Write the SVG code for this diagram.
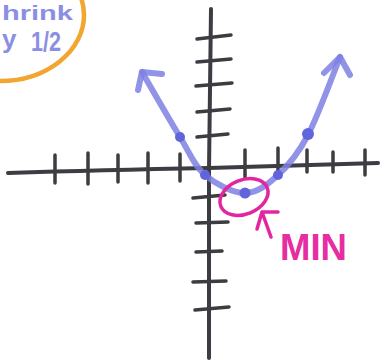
<svg xmlns="http://www.w3.org/2000/svg" width="391" height="360" viewBox="0 0 391 360">
<defs>
<style>
.ax{fill:none;stroke:#3c3c42;stroke-width:4;stroke-linecap:round}
.tk{fill:none;stroke:#3c3c42;stroke-width:3.5;stroke-linecap:round}
.cv{fill:none;stroke:#7d80e2;stroke-width:6;stroke-linecap:round;stroke-linejoin:round;opacity:0.85}
.pt{fill:#6165dc}
.mg{fill:none;stroke:#e3259f;stroke-width:3.5;stroke-linecap:round;stroke-linejoin:round}
.note{font-family:"Liberation Sans",Arial,sans-serif;font-weight:bold;fill:#8b8fe2}
</style>
</defs>
<rect width="391" height="360" fill="#ffffff"/>
<g id="label-shrink">
<ellipse cx="0" cy="15" rx="84" ry="66" fill="none" stroke="#f2a630" stroke-width="4.5"/>
<text class="note" x="2" y="20" font-size="21" textLength="71" lengthAdjust="spacingAndGlyphs">hrink</text>
<text class="note" x="2" y="48" font-size="26">y</text>
<text class="note" x="31" y="51" font-size="28" textLength="30" lengthAdjust="spacingAndGlyphs">1/2</text>
</g>
<g id="axes">
<path class="ax" d="M211,9 L209,170 L209,358"/>
<path class="ax" d="M8,173 Q100,170 209,168 L378,163"/>
</g>
<g id="ticks">
<path class="tk" d="M55,155 L55,183 M88,153 L88,184 M118,155 L118,182 M148,153 L148,183 M180,154 L180,181"/>
<path class="tk" d="M245,150 L245,177 M278,148 L278,177 M307,150 L307,172 M333,152 L333,172 M365,150 L365,175"/>
<path class="tk" d="M197,39 L231,35 M197,62 L231,59 M196,86 L232,83 M197,112 L230,109 M197,137 L228,134"/>
<path class="tk" d="M193,198 L225,195 M196,223 L228,222 M196,252 L222,251 M193,282 L226,281 M195,310 L229,307"/>
</g>
<g id="parabola">
<path class="cv" d="M142,72 C148.3,82.8 169.5,119.8 180,137 C190.5,154.2 194.2,165.7 205,175 C215.8,184.3 232.8,193 245,193 C257.2,193 267.5,184.7 278,175 C288.5,165.3 297.7,154.7 308,135 C318.3,115.3 334.7,70 340,57"/>
<path class="cv" d="M138,90 L142,72 L162,74"/>
<path class="cv" d="M324,73 L340,57 L350,75"/>
<circle class="pt" cx="180" cy="137" r="5"/>
<circle class="pt" cx="205" cy="175" r="5"/>
<circle class="pt" cx="245" cy="193" r="5.5"/>
<circle class="pt" cx="278" cy="175" r="5"/>
<circle class="pt" cx="308" cy="134" r="6"/>
</g>
<g id="min-marker">
<ellipse class="mg" cx="244" cy="197" rx="25" ry="17" transform="rotate(-22 244 197)"/>
<text x="280" y="260" font-family="'Liberation Sans',Arial,sans-serif" font-weight="bold" font-size="37" fill="#e62ea2" textLength="67" lengthAdjust="spacingAndGlyphs">MIN</text>
</g>
<g id="connectors">
<path class="mg" d="M271,237 L262,212 M257,229 L262,212 L278,212"/>
</g>
</svg>
